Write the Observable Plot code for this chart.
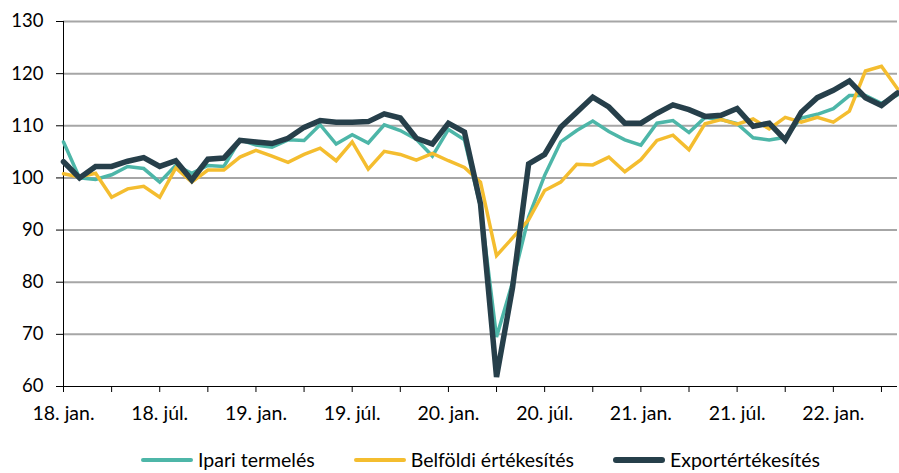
<!DOCTYPE html>
<html>
<head>
<meta charset="utf-8">
<script src="https://cdn.jsdelivr.net/npm/d3@7"></script>
<script src="https://cdn.jsdelivr.net/npm/@observablehq/plot@0.6"></script>
<style>
  html, body { margin: 0; padding: 0; background: #fff; }
  #wrap { position: relative; width: 899px; height: 473px; font-family: Lato, "Noto Sans", sans-serif; }
  #legend { position: absolute; left: 141px; top: 448px; display: flex; align-items: center; font-size: 19.5px; color: #000; white-space: nowrap; }
  .item { display: flex; align-items: center; margin-right: 39px; }
  .sw { width: 52px; border-radius: 3px; margin-right: 5px; }
</style>
</head>
<body>
<div id="wrap"><div id="chart"></div><div id="legend"></div></div>
<script>
// Series names and colours
const seriesNames = ["Ipari termelés", "Belföldi értékesítés", "Exportértékesítés"];
const seriesColors = ["#4db6a8", "#f4bd2f", "#263f4a"];
const seriesWidths = [3.5, 3.5, 5.5];

// Monthly values, 2018 Jan .. 2022 May
const ipari = [106.9, 100.0, 99.7, 100.6, 102.2, 101.8, 99.2, 102.4, 100.9, 102.4, 102.2, 107.3,
  106.3, 105.9, 107.3, 107.2, 110.2, 106.5, 108.3, 106.7, 110.2, 109.1, 107.4, 104.2,
  109.3, 107.3, 94.5, 69.5, 80.0, 92.5, 100.5, 106.9, 109.1, 110.9, 108.9, 107.3,
  106.3, 110.5, 111.0, 108.7, 111.6, 111.2, 110.4, 107.7, 107.3, 107.8, 111.5, 112.2,
  113.3, 115.8, 115.8, 114.3, 115.9];
const belfoldi = [100.8, 100.2, 100.9, 96.3, 97.9, 98.4, 96.3, 101.9, 99.2, 101.5, 101.5, 104.0,
  105.3, 104.2, 103.0, 104.5, 105.7, 103.3, 106.9, 101.7, 105.1, 104.5, 103.4, 104.7,
  103.3, 102.0, 99.2, 85.1, 88.5, 92.0, 97.6, 99.2, 102.6, 102.5, 104.0, 101.2,
  103.5, 107.2, 108.2, 105.4, 110.4, 111.2, 110.3, 111.3, 109.4, 111.6, 110.7, 111.6,
  110.7, 112.8, 120.5, 121.4, 117.1];
const export_ = [103.1, 100.0, 102.2, 102.2, 103.2, 103.9, 102.2, 103.3, 99.6, 103.6, 103.8, 107.2,
  106.9, 106.6, 107.6, 109.7, 111.0, 110.7, 110.7, 110.8, 112.3, 111.5, 107.6, 106.5,
  110.5, 108.8, 95.0, 61.8, 79.0, 102.7, 104.5, 109.7, 112.6, 115.5, 113.6, 110.5,
  110.5, 112.4, 114.0, 113.1, 111.8, 112.0, 113.3, 109.9, 110.5, 107.3, 112.6, 115.4,
  116.8, 118.6, 115.4, 113.9, 116.3];

// Axis ticks and labels
const yTicks = [60, 70, 80, 90, 100, 110, 120, 130];
const xLabels = ["18. jan.", "18. júl.", "19. jan.", "19. júl.", "20. jan.", "20. júl.", "21. jan.", "21. júl.", "22. jan."];
const xLabelStep = 6;
const xTickStep = 3;

const allSeries = [ipari, belfoldi, export_];
const data = [];
allSeries.forEach((arr, s) => arr.forEach((v, i) => data.push({i, v, s: seriesNames[s]})));
const nMonths = ipari.length;
const xTicks = d3.range(0, nMonths - 1, xTickStep);
const labelFor = i => (i % xLabelStep === 0 ? (xLabels[i / xLabelStep] ?? "") : "");

const chart = Plot.plot({
  width: 899,
  height: 430,
  marginLeft: 63,
  marginRight: 2,
  marginTop: 21,
  marginBottom: 44,
  style: {fontFamily: "Lato, 'Noto Sans', sans-serif", fontSize: "18.5px", color: "#000", background: "#fff"},
  x: {type: "linear", domain: [0, nMonths - 1]},
  y: {domain: [60, 130]},
  marks: [
    Plot.ruleY(yTicks.filter(t => t > 60), {stroke: "#a6a6a6", strokeWidth: 2}),
    Plot.axisY({ticks: yTicks, tickSize: 7, tickPadding: 13, stroke: "#000", label: null, fill: "#000", fontSize: 18.5}),
    Plot.axisX({ticks: xTicks, tickSize: 6, tickPadding: 14, tickFormat: labelFor, stroke: "#000", label: null, fill: "#000", fontSize: 19.5}),
    Plot.ruleY([60], {stroke: "#000", strokeWidth: 1}),
    Plot.ruleX([0], {stroke: "#000", strokeWidth: 1}),
    ...seriesNames.map((name, k) =>
      Plot.line(data.filter(d => d.s === name), {x: "i", y: "v", stroke: seriesColors[k], strokeWidth: seriesWidths[k], strokeLinejoin: "miter", strokeMiterlimit: 3}))
  ]
});
document.getElementById("chart").appendChild(chart);

const legend = document.getElementById("legend");
seriesNames.forEach((name, k) => {
  const it = document.createElement("div");
  it.className = "item";
  const sw = document.createElement("div");
  sw.className = "sw";
  sw.style.height = (k === 2 ? 6 : 4) + "px";
  sw.style.background = seriesColors[k];
  const tx = document.createElement("span");
  tx.textContent = name;
  it.appendChild(sw); it.appendChild(tx);
  legend.appendChild(it);
});
</script>
</body>
</html>
